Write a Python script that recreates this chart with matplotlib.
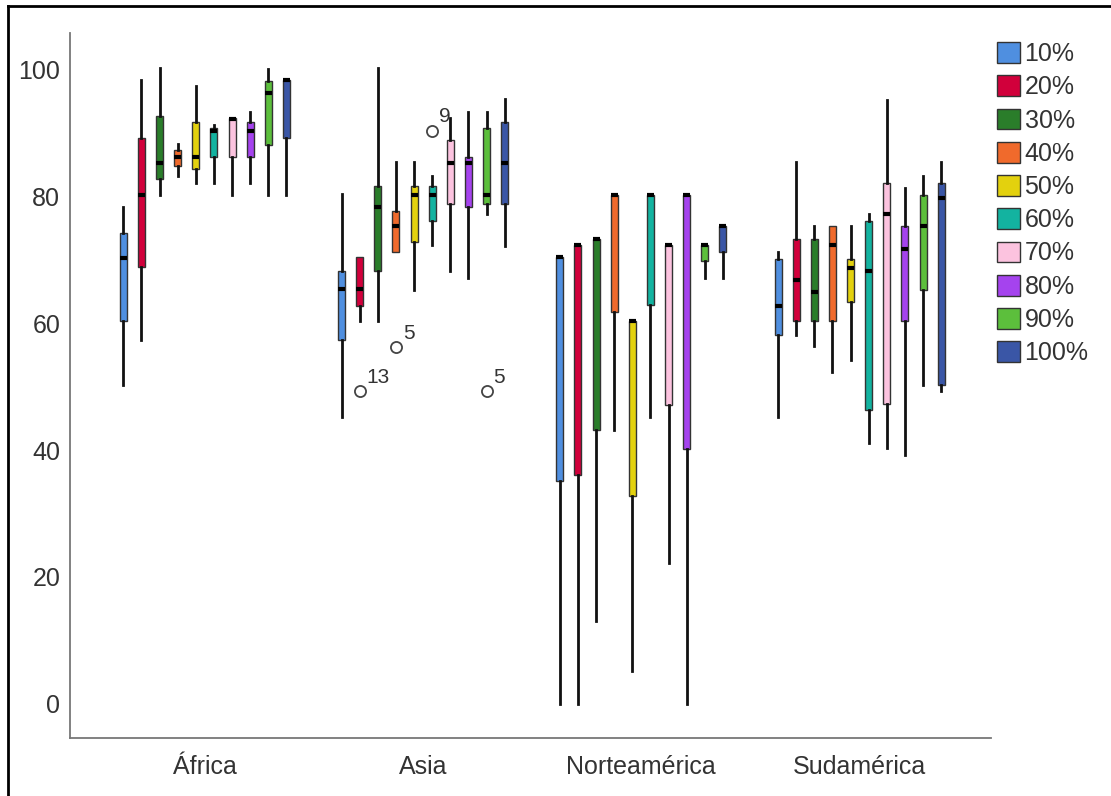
import numpy as np
import matplotlib
matplotlib.use("Agg")
import matplotlib.pyplot as plt
from matplotlib.patches import Patch
from matplotlib.lines import Line2D

plt.rcParams['font.family'] = ['Liberation Sans', 'DejaVu Sans']

# ---------------- DATA ----------------
continents = ['África', 'Asia', 'Norteamérica', 'Sudamérica']
series = ['10%', '20%', '30%', '40%', '50%', '60%', '70%', '80%', '90%', '100%']
colors = ['#4f8fe0', '#d1003b', '#2a7d2a', '#f06a2c', '#e3d10e',
          '#13b3a0', '#fcc3df', '#a543ee', '#5cbf3c', '#3a56a6']

# one row per continent, one value per series
whislo = [
    [50.3, 57.3, 80.3, 83.3, 82.2, 82.2, 80.3, 82.2, 80.3, 80.3],
    [45.2, 60.3, 60.3, 71.3, 65.3, 72.4, 68.3, 67.2, 77.3, 72.2],
    [0.0, 0.0, 13.1, 43.2, 5.1, 45.2, 22.2, 0.0, 67.2, 67.2],
    [45.2, 58.2, 56.4, 52.3, 54.3, 41.2, 40.3, 39.3, 50.3, 49.3],
]
q1 = [
    [60.3, 68.9, 82.8, 84.9, 84.3, 86.3, 86.3, 86.3, 88.2, 89.2],
    [57.3, 62.8, 68.3, 71.3, 72.8, 76.2, 78.9, 78.3, 78.9, 78.9],
    [35.2, 36.1, 43.2, 61.8, 32.7, 62.9, 47.2, 40.2, 69.8, 71.2],
    [58.2, 60.3, 60.3, 60.3, 63.3, 46.3, 47.3, 60.3, 65.3, 50.3],
]
med = [
    [70.3, 80.3, 85.3, 86.3, 86.3, 90.4, 92.3, 90.4, 96.3, 98.4],
    [65.4, 65.4, 78.3, 75.3, 80.3, 80.3, 85.3, 85.3, 80.3, 85.3],
    [70.4, 72.3, 73.3, 80.2, 60.3, 80.2, 72.3, 80.2, 72.3, 75.3],
    [62.8, 66.8, 64.9, 72.3, 68.8, 68.3, 77.3, 71.8, 75.3, 79.8],
]
q3 = [
    [74.3, 89.2, 92.7, 87.4, 91.8, 90.8, 92.4, 91.8, 98.3, 98.4],
    [68.3, 70.4, 81.7, 77.8, 81.7, 81.7, 88.9, 86.3, 90.8, 91.8],
    [70.4, 72.3, 73.3, 80.2, 60.3, 80.2, 72.3, 80.2, 72.3, 75.3],
    [70.2, 73.3, 73.3, 75.4, 70.2, 76.2, 82.2, 75.3, 80.3, 82.2],
]
whishi = [
    [78.3, 98.4, 100.3, 88.3, 97.4, 91.3, 92.4, 93.4, 100.2, 98.4],
    [80.4, 70.4, 100.3, 85.4, 85.4, 83.3, 92.4, 93.4, 93.4, 95.4],
    [70.4, 72.3, 73.3, 80.2, 60.3, 80.2, 72.3, 80.2, 72.3, 75.3],
    [71.2, 85.4, 75.4, 75.4, 75.4, 77.3, 95.3, 81.3, 83.3, 85.4],
]
# outliers: (continent index, series index, value, case label)
outlier_cont = [1, 1, 1, 1]
outlier_series = [1, 3, 5, 8]
outlier_vals = [49.3, 56.3, 90.4, 49.3]
outlier_labels = ['13', '5', '9', '5']
# ----------------------------------------

fig = plt.figure(figsize=(11.11, 7.96), dpi=100)
ax = fig.add_axes([70 / 1111, 58 / 796, 921 / 1111, 705 / 796])

step = 0.083
width = 0.032
text_col = '#333333'

for c in range(len(continents)):
    for s in range(len(series)):
        pos = c + (s - 4.5) * step
        fl = [outlier_vals[k] for k in range(len(outlier_vals))
              if outlier_cont[k] == c and outlier_series[k] == s]
        st = dict(whislo=whislo[c][s], q1=q1[c][s], med=med[c][s],
                  q3=q3[c][s], whishi=whishi[c][s], fliers=fl)
        ax.bxp([st], positions=[pos], widths=width, patch_artist=True,
               showcaps=False, manage_ticks=False,
               boxprops=dict(facecolor=colors[s], edgecolor='#333333', linewidth=1.0),
               whiskerprops=dict(color='#111111', linewidth=2.0),
               medianprops=dict(color='black', linewidth=3.0,
                                solid_capstyle='butt'),
               flierprops=dict(marker='o', markersize=8, markerfacecolor='none',
                               markeredgecolor='#444444', markeredgewidth=1.3))

for k in range(len(outlier_vals)):
    pos = outlier_cont[k] + (outlier_series[k] - 4.5) * step
    ax.annotate(outlier_labels[k], (pos, outlier_vals[k]), xytext=(5, 3),
                textcoords='offset points', fontsize=15, color=text_col,
                ha='left', va='bottom')

ax.set_xlim(-0.618, 3.602)
ax.set_ylim(-5.4, 105.8)
ax.set_yticks([0, 20, 40, 60, 80, 100])
ax.set_xticks(range(len(continents)))
ax.set_xticklabels(continents)
ax.tick_params(axis='both', length=0, labelsize=18, labelcolor=text_col)
ax.tick_params(axis='y', pad=7)
ax.tick_params(axis='x', pad=12)
for side in ['top', 'right']:
    ax.spines[side].set_visible(False)
for side in ['left', 'bottom']:
    ax.spines[side].set_color('#777777')
    ax.spines[side].set_linewidth(1.3)

handles = [Patch(facecolor=colors[i], edgecolor='#333333', linewidth=1.0)
           for i in range(len(series))]
fig.legend(handles, series, loc='upper left',
           bbox_to_anchor=(987 / 1111, 1 - 32 / 796), frameon=False,
           fontsize=18, handlelength=0.9, handleheight=0.9,
           handletextpad=0.2, labelspacing=0.37, borderaxespad=0,
           labelcolor=text_col)

# outer frame lines (left and top)
fig.add_artist(Line2D([8 / 1111, 8 / 1111], [0, 1 - 6 / 796],
                      transform=fig.transFigure, color='black', linewidth=2))
fig.add_artist(Line2D([8 / 1111, 1], [1 - 6 / 796, 1 - 6 / 796],
                      transform=fig.transFigure, color='black', linewidth=2))

fig.savefig('out.png', dpi=100)
